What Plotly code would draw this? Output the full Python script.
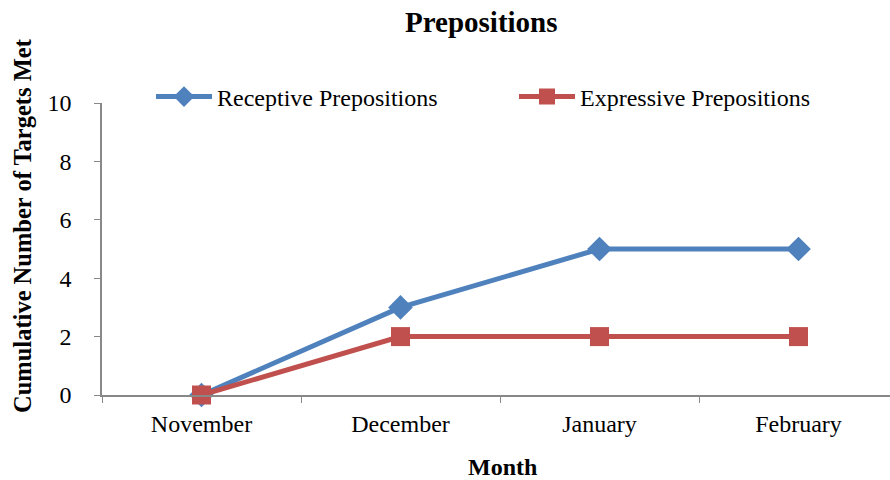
import plotly.graph_objects as go

months = ["November", "December", "January", "February"]
receptive = [0, 3, 5, 5]
expressive = [0, 2, 2, 2]
y_ticks = [0, 2, 4, 6, 8, 10]

BLUE = "#4F81BD"
RED = "#C0504D"
FONT = "Liberation Serif, Times New Roman, serif"

fig = go.Figure()
fig.add_trace(go.Scatter(
    x=months, y=receptive, name="Receptive Prepositions", mode="lines+markers",
    line=dict(color=BLUE, width=5),
    marker=dict(symbol="diamond", size=19, color=BLUE),
    legend="legend", cliponaxis=False,
))
fig.add_trace(go.Scatter(
    x=months, y=expressive, name="Expressive Prepositions", mode="lines+markers",
    line=dict(color=RED, width=5),
    marker=dict(symbol="square", size=19, color=RED),
    legend="legend2", cliponaxis=False,
))

L, R, T, B = 102, 0, 103, 85
W, H = 890, 480
pw, ph = W - L - R, H - T - B

legend_common = dict(
    orientation="h", y=1.0 + 6 / ph,
    xanchor="left", yanchor="middle",
    font=dict(family=FONT, size=24), bgcolor="rgba(0,0,0,0)",
    itemwidth=56,
)

fig.update_layout(
    width=W, height=H,
    margin=dict(l=L, r=R, t=T, b=B),
    paper_bgcolor="white", plot_bgcolor="white",
    font=dict(family=FONT, size=24, color="black"),
    showlegend=True,
    legend=dict(x=(151 - L) / pw, **legend_common),
    legend2=dict(x=(514 - L) / pw, **legend_common),
    xaxis=dict(
        type="category", categoryorder="array", categoryarray=months,
        range=[-0.5, -0.5 + pw / 199.0],
        showline=True, linecolor="#888888", linewidth=1.5,
        ticks="outside", ticklen=6, tickcolor="#888888", tickson="boundaries",
        showgrid=False, zeroline=False, ticklabelstandoff=6,
        tickfont=dict(family=FONT, size=24),
    ),
    yaxis=dict(
        range=[0, 10], tickvals=y_ticks,
        showline=True, linecolor="#888888", linewidth=1.5,
        ticks="outside", ticklen=6, tickcolor="#888888",
        showgrid=False, zeroline=False, ticklabelstandoff=18,
        tickfont=dict(family=FONT, size=24),
    ),
    annotations=[
        dict(text="<b>Prepositions</b>", x=481, y=H - 22, xref="paper", yref="paper",
             showarrow=False, font=dict(family=FONT, size=29)),
        dict(text="<b>Month</b>", x=502, y=H - 467, xref="paper", yref="paper",
             showarrow=False, font=dict(family=FONT, size=24)),
        dict(text="<b>Cumulative Number of Targets Met</b>", x=22, y=H - 226,
             xref="paper", yref="paper", textangle=-90,
             showarrow=False, font=dict(family=FONT, size=24.5)),
    ],
)

# convert pixel-positioned annotations to paper coordinates
for a in fig.layout.annotations:
    a.x = (a.x - L) / pw
    a.y = (a.y - B) / ph
    a.xanchor = "center"
    a.yanchor = "middle"

fig.write_html("out.html")
